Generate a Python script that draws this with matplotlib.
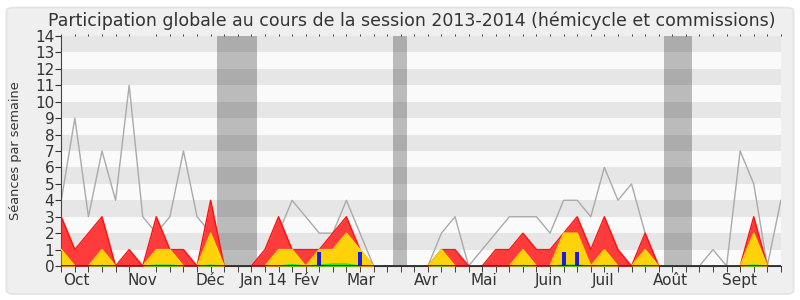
import numpy as np
import matplotlib
matplotlib.use('Agg')
import matplotlib.pyplot as plt
from matplotlib.patches import FancyBboxPatch

#%% data (one value per week, session 2013-2014)
weeks = np.arange(54)
total = [3, 1, 2, 3, 0, 1, 0, 3, 1, 1, 0, 4, 0, 0, 0, 1, 3, 1, 1, 1, 2, 3, 1, 0, 0, 0, 0,
         0, 1, 1, 0, 0, 1, 1, 2, 1, 1, 2, 3, 1, 3, 1, 0, 2, 0, 0, 0, 0, 0, 0, 0, 3, 0, 0]
hemicycle = [1, 0, 0, 1, 0, 0, 0, 1, 1, 0, 0, 2, 0, 0, 0, 0, 1, 1, 0, 1, 1, 2, 1, 0, 0, 0, 0,
             0, 1, 0, 0, 0, 0, 0, 1, 0, 0, 2, 2, 0, 1, 0, 0, 1, 0, 0, 0, 0, 0, 0, 0, 2, 0, 0]
interventions = [0, 0, 0, 0.03, 0, 0, 0, 0.05, 0.05, 0, 0, 0.05, 0, 0, 0, 0, 0, 0.08, 0, 0.05, 0.12, 0.12, 0, 0, 0, 0, 0,
                 0, 0.03, 0, 0, 0, 0, 0, 0.03, 0, 0, 0.05, 0.05, 0, 0.03, 0, 0, 0.03, 0, 0, 0, 0, 0, 0, 0, 0.05, 0, 0]
mediane = [4, 9, 3, 7, 4, 11, 3, 2, 3, 7, 3, 2, 0, 0, 0, 0, 2, 4, 3, 2, 2, 4, 2, 0, 0, 0, 0,
           0, 2, 3, 0, 1, 2, 3, 3, 3, 2, 4, 4, 3, 6, 4, 5, 2, 0, 0, 0, 0, 1, 0, 7, 5, 0, 4]
questions_x = [19, 22, 37, 38]
questions_h = [0.87, 0.87, 0.87, 0.87]
vacances = [(11.45, 14.45), (24.45, 25.45), (44.4, 46.45)]
mois = ['Oct', 'Nov', 'Déc', 'Jan 14', 'Fév', 'Mar', 'Avr', 'Mai', 'Juin', 'Juil', 'Août', 'Sept']
mois_pos = [1.1, 6.0, 10.95, 14.9, 18.1, 22.1, 26.9, 31.1, 35.9, 39.9, 44.9, 49.95]

#%% figure
fig = plt.figure(figsize=(8, 3), dpi=100, facecolor='white')
fig.patches.append(FancyBboxPatch((0.008, 0.02), 0.984, 0.955, boxstyle='round,pad=0,rounding_size=0.012',
                                  transform=fig.transFigure, facecolor='#efefef', edgecolor='#e2e2e2',
                                  lw=1.2, zorder=-10))
ax = fig.add_axes([0.0766, 0.1133, 0.8995, 0.7667])
ax.set_facecolor('#fafafa')

for k in range(1, 14, 2):
    ax.axhspan(k, k + 1, color='#e6e6e6', lw=0, zorder=0)
for a, b in vacances:
    ax.axvspan(a, b, color='black', alpha=0.25, lw=0, zorder=1)

ax.plot(weeks, mediane, color='#aaaaaa', lw=1, zorder=2)
ax.fill_between(weeks, total, color='#ff3b3b', lw=0, zorder=3)
ax.plot(weeks, total, color='#ff1010', lw=1, zorder=3)
ax.fill_between(weeks, hemicycle, color='#ffd20a', lw=0, zorder=4)
ax.plot(weeks, hemicycle, color='#f5e000', lw=1, zorder=4)
ax.fill_between(weeks, interventions, color='#22dd22', lw=0, zorder=5)
ax.plot(weeks, interventions, color='#11ee11', lw=1, zorder=5)
ax.bar(questions_x, questions_h, width=0.3, color='#1c1cdc', zorder=6)
ax.axhline(0, color='#4a1a10', lw=1.2, zorder=7)

ax.set_xlim(0, 53)
ax.set_ylim(0, 14)
ax.set_yticks(range(15))
ax.tick_params(axis='y', labelsize=11, length=4, pad=1, colors='#333333')
ax.set_xticks(mois_pos)
ax.set_xticklabels(mois)
ax.set_xticks(range(54), minor=True)
ax.tick_params(axis='x', which='major', length=0, labelsize=11, pad=5, colors='#333333')
ax.tick_params(axis='x', which='minor', length=4, top=True, color='#222222')
ax.tick_params(axis='x', which='minor', top=True, direction='out')
for t in ax.xaxis.get_minor_ticks():
    t.tick2line.set_markersize(1.5)
    t.tick2line.set_color('#555555')
for side in ['top', 'right']:
    ax.spines[side].set_visible(False)
ax.spines['left'].set_color('#444444')
ax.spines['bottom'].set_color('#333333')
ax.set_ylabel('Séances par semaine', fontsize=9.3, color='#333333', labelpad=9)

fig.text(0.515, 0.93, 'Participation globale au cours de la session 2013-2014 (hémicycle et commissions)',
         ha='center', va='center', fontsize=12.5, color='#333333')

fig.savefig('out.png', dpi=100, facecolor='white')
